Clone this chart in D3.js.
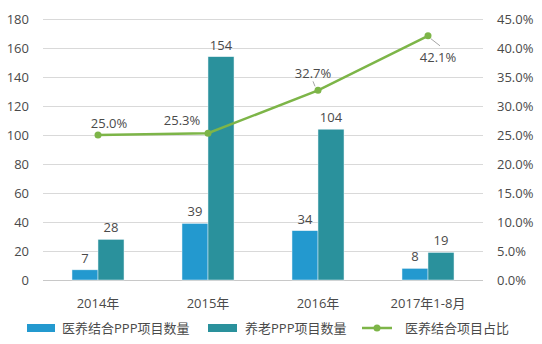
<!DOCTYPE html>
<html><head><meta charset="utf-8">
<script src="https://cdn.jsdelivr.net/npm/d3@7"></script>
<style>
body{margin:0;background:#fff;}
text{font-family:"Open Sans","Noto Sans CJK SC",sans-serif;fill:#4a4a4a;}
</style></head>
<body><svg id="c" width="542" height="344"></svg>
<script>
const categories = ["2014年","2015年","2016年","2017年1-8月"];
const medCare = [7,39,34,8];
const elderly = [28,154,104,19];
const ratio = [25.0,25.3,32.7,42.1];
const leftTicks = [0,20,40,60,80,100,120,140,160,180];
const rightTicks = [0,5,10,15,20,25,30,35,40,45];
const seriesNames = ["医养结合PPP项目数量","养老PPP项目数量","医养结合项目占比"];

const colBlue = "#2399cf", colTeal = "#2a919c", colGreen = "#7db548";
const svg = d3.select("#c");
const L = 43, R = 483, T = 19, B = 280;

const x = d3.scaleBand().domain(categories).range([L,R]);
const yL = d3.scaleLinear().domain([0,180]).range([B,T]);
const yR = d3.scaleLinear().domain([0,45]).range([B,T]);

// gridlines
svg.append("g").selectAll("line").data(leftTicks).join("line")
  .attr("x1",L).attr("x2",R).attr("y1",d=>yL(d)+0.5).attr("y2",d=>yL(d)+0.5)
  .attr("stroke",d=>d===0?"#c8c8c8":"#d9d9d9").attr("stroke-width",1);

// left tick labels
svg.append("g").selectAll("text").data(leftTicks).join("text")
  .attr("x",29).attr("y",d=>yL(d)).attr("dy","0.35em").attr("text-anchor","end")
  .attr("font-size",13).text(d=>d);
// right tick labels
svg.append("g").selectAll("text").data(rightTicks).join("text")
  .attr("x",497).attr("y",d=>yR(d)).attr("dy","0.35em").attr("text-anchor","start")
  .attr("font-size",13).text(d=>d.toFixed(1)+"%");
// x labels
svg.append("g").selectAll("text").data(categories).join("text")
  .attr("x",d=>x(d)+x.bandwidth()/2).attr("y",303).attr("dy","0.35em").attr("text-anchor","middle")
  .attr("font-size",13).text(d=>d);

const bw = 26;
const gB = svg.append("g");
categories.forEach((c,i)=>{
  const cx = x(c)+x.bandwidth()/2;
  gB.append("rect").attr("x",cx-bw).attr("width",bw).attr("y",yL(medCare[i])).attr("height",B-yL(medCare[i]))
    .attr("fill",colBlue).attr("stroke","#e8f2f6").attr("stroke-width",0.5);
  gB.append("rect").attr("x",cx).attr("width",bw).attr("y",yL(elderly[i])).attr("height",B-yL(elderly[i]))
    .attr("fill",colTeal).attr("stroke","#e8f2f6").attr("stroke-width",0.5);
  gB.append("text").attr("x",cx-bw/2).attr("y",yL(medCare[i])-7).attr("text-anchor","middle").attr("font-size",13).text(medCare[i]);
  gB.append("text").attr("x",cx+bw/2).attr("y",yL(elderly[i])-7).attr("text-anchor","middle").attr("font-size",13).text(elderly[i]);
});

// line
const px = i=>x(categories[i])+x.bandwidth()/2;
const line = d3.line().x((d,i)=>px(i)).y(d=>yR(d));
svg.append("path").datum(ratio).attr("d",line).attr("fill","none").attr("stroke",colGreen).attr("stroke-width",2.5);

// leader lines for labels 3 & 4
svg.append("line").attr("x1",px(2)-3).attr("y1",yR(ratio[2])-4).attr("x2",px(2)-5).attr("y2",yR(ratio[2])-9).attr("stroke","#a6a6a6").attr("stroke-width",1);
svg.append("line").attr("x1",px(3)+3).attr("y1",yR(ratio[3])+3).attr("x2",px(3)+12).attr("y2",yR(ratio[3])+10).attr("stroke","#a6a6a6").attr("stroke-width",1);

svg.append("g").selectAll("circle").data(ratio).join("circle")
  .attr("cx",(d,i)=>px(i)).attr("cy",d=>yR(d)).attr("r",3.5).attr("fill",colGreen);

const lblOff = [[11,-12],[-26,-13],[-5,-17],[10,22]];
svg.append("g").selectAll("text").data(ratio).join("text")
  .attr("x",(d,i)=>px(i)+lblOff[i][0]).attr("y",(d,i)=>yR(d)+lblOff[i][1]).attr("dy","0.35em")
  .attr("text-anchor","middle").attr("font-size",13).text(d=>d.toFixed(1)+"%");

// legend
const lg = svg.append("g");
const ly = 328;
lg.append("rect").attr("x",27).attr("y",ly-4).attr("width",28).attr("height",8).attr("fill",colBlue);
lg.append("text").attr("x",62).attr("y",ly).attr("dy","0.35em").attr("font-size",13).text(seriesNames[0]);
lg.append("rect").attr("x",208).attr("y",ly-4).attr("width",29).attr("height",8).attr("fill",colTeal);
lg.append("text").attr("x",245).attr("y",ly).attr("dy","0.35em").attr("font-size",13).text(seriesNames[1]);
lg.append("line").attr("x1",362).attr("x2",392).attr("y1",ly).attr("y2",ly).attr("stroke",colGreen).attr("stroke-width",2.5);
lg.append("circle").attr("cx",377).attr("cy",ly).attr("r",3.5).attr("fill",colGreen);
lg.append("text").attr("x",405).attr("y",ly).attr("dy","0.35em").attr("font-size",13).text(seriesNames[2]);
</script></body></html>
